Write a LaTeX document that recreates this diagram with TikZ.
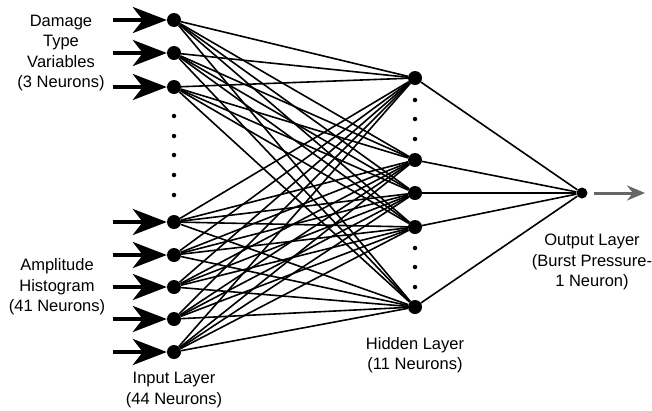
\documentclass[tikz,border=0pt]{standalone}
\usepackage{fontspec}
\setmainfont{Liberation Sans}
\usetikzlibrary{arrows.meta}
\begin{document}
\begin{tikzpicture}[x=1pt,y=-1pt,
  neuron/.style={circle,fill=black,inner sep=0pt,minimum size=14pt},
  outneuron/.style={circle,fill=black,inner sep=0pt,minimum size=11pt},
  dotc/.style={circle,fill=black,inner sep=0pt,minimum size=4.5pt},
  link/.style={line width=1.6pt},
  inarrow/.style={line width=4pt,-{Stealth[length=34pt,width=26pt,inset=10pt]}},
  outarrow/.style={line width=3pt,draw=black!60,-{Stealth[length=18pt,width=15pt,inset=6pt]}},
  lbl/.style={align=center,font=\fontsize{16.5}{20.5}\selectfont,inner sep=0pt}]
\useasboundingbox (0,0) rectangle (652,410);
\fill[white] (0,0) rectangle (652,410);
% input neurons
\foreach \n/\y in {1/20,2/53,3/87,4/222,5/255,6/287,7/319,8/352}
  \node[neuron] (i\n) at (174,\y) {};
% input dots
\foreach \n/\y in {1/116,2/136,3/155,4/175,5/195}
  \node[dotc] (id\n) at (174,\y) {};
% hidden neurons
\foreach \n/\y in {1/78,2/160,3/193,4/227,5/307}
  \node[neuron] (h\n) at (415,\y) {};
% hidden dots
\foreach \n/\y in {1/100,2/119,3/139,4/248,5/267,6/287}
  \node[dotc] (hd\n) at (415,\y) {};
% output neuron
\node[outneuron] (o) at (582,193) {};
% connections
\foreach \i in {1,...,8}
  \foreach \h in {1,...,5}
    \draw[link] (i\i) -- (h\h);
\foreach \h in {1,...,5}
  \draw[link] (h\h) -- (o);
% input arrows
\foreach \n in {1,...,8}{
  \coordinate (a\n) at ([xshift=-61pt]i\n.center);
  \draw[inarrow] (a\n) -- (i\n.west);
}
% output arrow
\coordinate (oa) at (645,193);
\draw[outarrow] ([xshift=6pt]o.east) -- (oa);
% labels
\node[lbl] (ldt) at (61,53) {Damage\\Type\\Variables\\(3 Neurons)};
\node[lbl] (lah) at (57,287) {Amplitude\\Histogram\\(41 Neurons)};
\node[lbl] (lin) at (174,390) {Input Layer\\(44 Neurons)};
\node[lbl] (lhid) at (415,355) {Hidden Layer\\(11 Neurons)};
\node[lbl] (lout) at (592,262) {Output Layer\\(Burst Pressure-\\1 Neuron)};
\end{tikzpicture}
\end{document}
